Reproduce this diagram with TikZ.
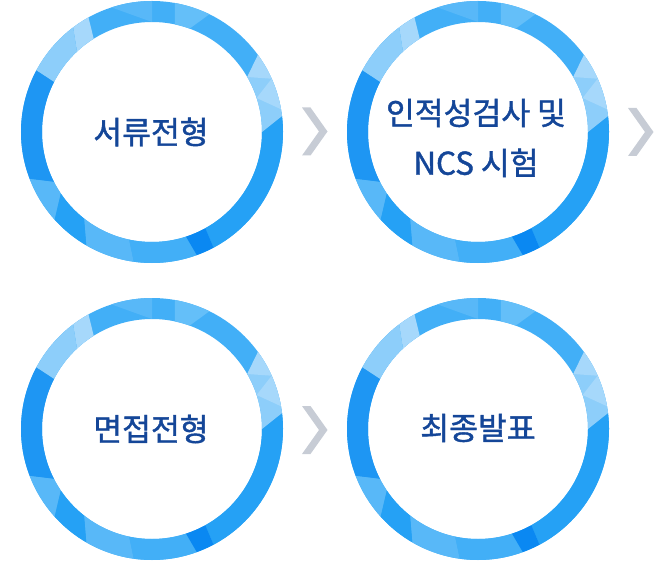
\documentclass[tikz,border=0pt]{standalone}
\usepackage{fontspec}
\setmainfont{Noto Sans CJK KR}
\newfontfamily\stepfont{Noto Sans CJK KR}[FakeBold=1.3]
\usepackage{tikz}

\definecolor{ringBase}{RGB}{66,175,247}
\definecolor{ringBlue}{RGB}{37,161,245}
\definecolor{ringLight}{RGB}{141,206,250}
\definecolor{ringPale}{RGB}{166,216,251}
\definecolor{ringSoft}{RGB}{100,191,249}
\definecolor{ringMid}{RGB}{88,184,248}
\definecolor{ringDark}{RGB}{30,150,243}
\definecolor{ringDeep}{RGB}{10,136,242}
\definecolor{chevGray}{RGB}{199,204,213}
\definecolor{stepText}{RGB}{20,70,152}

% outer start / outer end / inner start / inner end / colour
\def\facets{-62/7/-61/0/ringBlue, 7/36/0/30/ringLight, 10/24/18/18/ringPale,
  24/36/30/30/ringPale, 64/80/70/78/ringSoft, 90/108/90/90/ringMid,
  119/127/122/133/ringPale, 127/152/133/153/ringLight, 152/201/153/207/ringDark,
  201/222/207/214/ringMid, 222/240/214/232/ringBlue, 240/262/232/258/ringMid,
  262/290/258/288/ringBase, 290/298/288/299/ringDeep}

\tikzset{
  ring/.style={draw=ringBase, line width=15.75pt},
  steplabel/.style={text=stepText, align=center, font=\stepfont\fontsize{23.5}{37.5}\selectfont},
  chev/.style={fill=chevGray}
}

\begin{document}
\begin{tikzpicture}[x=0.75pt, y=0.75pt]
    \useasboundingbox (0,0) rectangle (660,565);

    % rings
    \foreach \cx/\cy in {152/433, 478/433, 152/136, 478/136} {
        \begin{scope}[shift={(\cx,\cy)}]
            \draw[ring] (0,0) circle[radius=120.5];
            \foreach \oa/\ob/\ia/\ib/\col in \facets
                \fill[\col] (\ia:110) -- (\oa:131) arc[start angle=\oa, end angle=\ob, radius=131]
                    -- (\ib:110) arc[start angle=\ib, end angle=\ia, radius=110] -- cycle;
        \end{scope}
    }

    \node[steplabel] (doc) at (151,433) {서류전형};
    \node[steplabel] (test) at (476,427) {인적성검사 및\\NCS 시험};
    \node[steplabel] (interview) at (151,136) {면접전형};
    \node[steplabel] (final) at (478,137) {최종발표};

    % chevrons
    \coordinate (g1) at (314.5,433.5);
    \coordinate (g2) at (640.5,433);
    \coordinate (g3) at (314.5,135);
    \foreach \g in {g1,g2,g3}
        \fill[chev, shift={(\g)}] (-12.5,24) -- (-4,24) -- (13,0) -- (-4,-24)
            -- (-12.5,-24) -- (4.5,0) -- cycle;
\end{tikzpicture}
\end{document}
